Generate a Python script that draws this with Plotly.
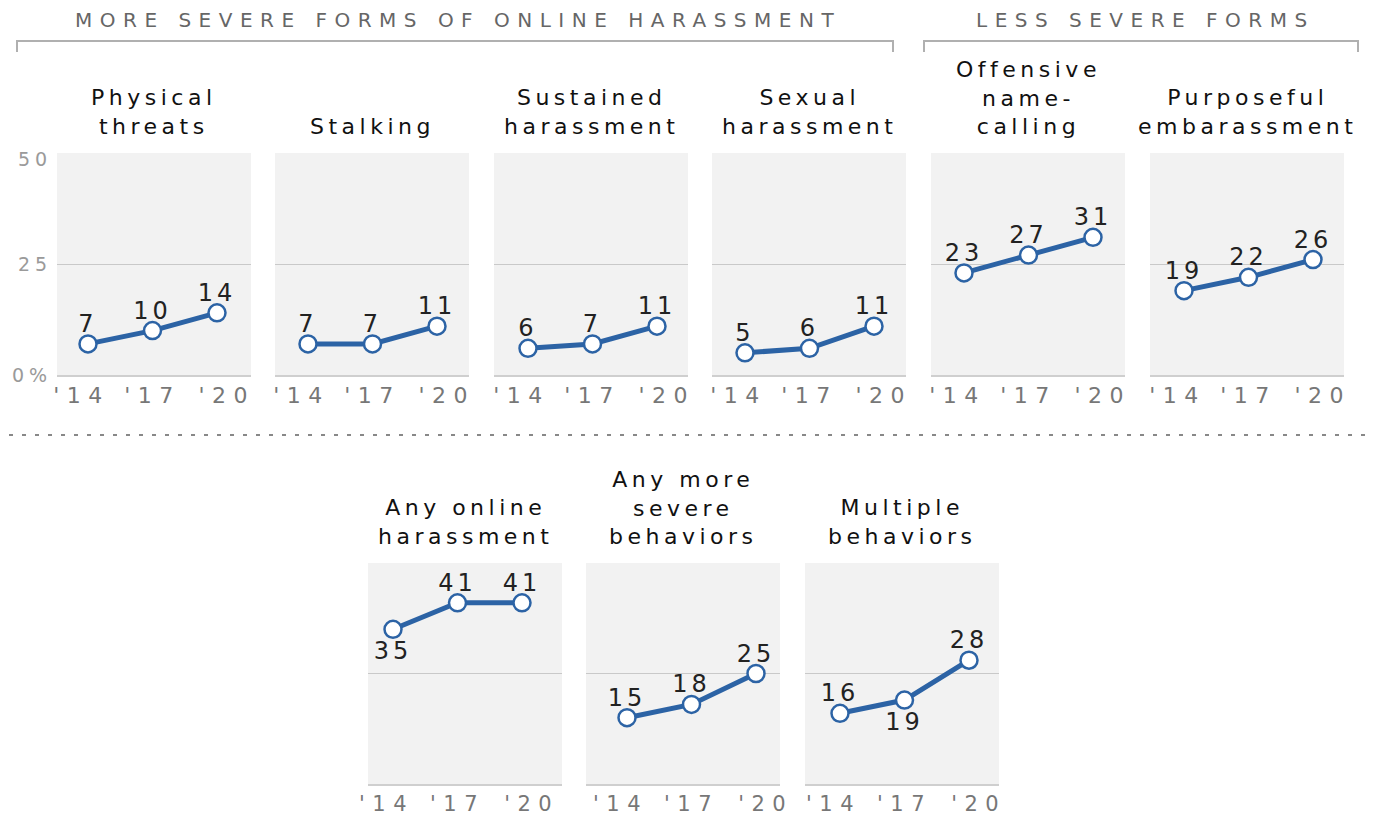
import plotly.graph_objects as go

# data
titles = [
    "Physical<br>threats", "Stalking", "Sustained<br>harassment", "Sexual<br>harassment",
    "Offensive<br>name-<br>calling", "Purposeful<br>embarassment",
    "Any online<br>harassment", "Any more<br>severe<br>behaviors", "Multiple<br>behaviors",
]
years = ["'14", "'17", "'20"]
y_ticks = [0, 25, 50]
y_ticktext = ["0%", "25", "50"]
physical_threats = [7, 10, 14]
stalking = [7, 7, 11]
sustained_harassment = [6, 7, 11]
sexual_harassment = [5, 6, 11]
name_calling = [23, 27, 31]
embarassment = [19, 22, 26]
any_online = [35, 41, 41]
any_severe = [15, 18, 25]
multiple = [16, 19, 28]
series = [physical_threats, stalking, sustained_harassment, sexual_harassment,
          name_calling, embarassment, any_online, any_severe, multiple]
groups = ["MORE SEVERE FORMS OF ONLINE HARASSMENT", "LESS SEVERE FORMS"]

# the page puts the figure 8px in from the top-left corner
OFF = 8
W, H = 1377 - OFF, 816 - OFF
BLUE = "#2c63a5"


def px(x):
    return (x - OFF) / W


def py(y):
    return 1 - (y - OFF) / H


def spaced(text, ls):
    return "<br>".join(f"<span style='letter-spacing:{ls}px'>{t}</span>"
                       for t in text.split("<br>"))


# panel boxes in page pixels: (left, top, bottom)
top_lefts = [57, 275, 494, 712, 931, 1150]
bot_lefts = [368, 586, 805]
boxes = [(l, 153, 375) for l in top_lefts] + [(l, 563, 784) for l in bot_lefts]
PW = 194
# offset of first point from the panel's left edge
first_pt = [31, 33, 34, 33, 33, 34, 25, 41, 35]
STEP = 64.5

fig = go.Figure()
annotations = []
for i, (vals, (left, top, bottom)) in enumerate(zip(series, boxes)):
    n = i + 1
    xa, ya = f"x{n}", f"y{n}"
    positions = ["top center"] * 3
    if i == 6:
        positions[0] = "bottom center"
    if i == 8:
        positions[1] = "bottom center"
    fig.add_trace(go.Scatter(
        x=[0, 1, 2], y=vals, xaxis=xa, yaxis=ya,
        mode="lines+markers",
        line=dict(color=BLUE, width=5),
        marker=dict(size=17, color="white", line=dict(color=BLUE, width=2.5)),
        cliponaxis=False, hoverinfo="skip",
    ))
    # labels: invisible markers just set how far the text sits from the point
    fig.add_trace(go.Scatter(
        x=[0, 1, 2], y=vals, xaxis=xa, yaxis=ya,
        mode="markers+text",
        marker=dict(size=[8 if p.startswith("top") else 17 for p in positions], opacity=0),
        text=[spaced(str(v), 4) for v in vals],
        textposition=positions,
        textfont=dict(size=24, color="#222"),
        cliponaxis=False, hoverinfo="skip",
    ))
    a = -first_pt[i] / STEP
    b = a + PW / STEP
    fig.layout[f"xaxis{n}"] = dict(
        domain=[px(left), px(left + PW)], anchor=ya, range=[a, b], automargin=False,
        showgrid=False, zeroline=False, showline=True, linecolor="#cfcfcf", linewidth=2,
        tickmode="array", tickvals=[-0.1, 1.0, 2.15],
        ticktext=[spaced(y, 7.5) for y in years], ticks="",
        tickfont=dict(size=22 if i < 6 else 21, color="#777"),
        ticklabelstandoff=0, fixedrange=True,
    )
    fig.layout[f"yaxis{n}"] = dict(
        domain=[py(bottom), py(top)], anchor=xa, range=[0, 50], automargin=False,
        showgrid=False, zeroline=False, showline=False, showticklabels=False,
        minor=dict(tickmode="array", tickvals=[25], showgrid=True,
                   gridcolor="#c9c9c9", gridwidth=1),
        fixedrange=True,
    )
    annotations.append(dict(
        text=spaced(titles[i], 4.5), xref="paper", yref="paper",
        x=px(left + PW / 2), y=py(top - 12), xanchor="center", yanchor="bottom",
        showarrow=False, font=dict(size=22, color="#111"),
    ))

# value axis labels on the first panel only
for v, t in zip(y_ticks, y_ticktext):
    annotations.append(dict(
        text=spaced(t, 5), xref="paper", yref="y", x=px(54), y=v,
        xanchor="right", yanchor="middle", yshift=-6 if v == 50 else 0,
        showarrow=False, font=dict(size=19, color="#9a9a9a"),
    ))

# group headers and brackets
for label, cx in zip(groups, [455, 1142]):
    annotations.append(dict(
        text=spaced(label, 7.5), xref="paper", yref="paper", x=px(cx + 3), y=py(20),
        xanchor="center", yanchor="middle", showarrow=False,
        font=dict(size=20, color="#666"),
    ))

shapes = []
for x0, x1 in [(17, 893), (924, 1358)]:
    shapes.append(dict(
        type="path", xref="paper", yref="paper",
        path=f"M{px(x0)},{py(52)} L{px(x0)},{py(41)} L{px(x1)},{py(41)} L{px(x1)},{py(52)}",
        line=dict(color="#b0b0b0", width=2),
    ))
shapes.append(dict(
    type="line", xref="paper", yref="paper", x0=px(9), x1=px(1365), y0=py(435), y1=py(435),
    line=dict(color="#888", width=2, dash="4px,9px"),
))

fig.update_layout(
    width=W, height=H, margin=dict(l=0, r=0, t=0, b=0, autoexpand=False),
    paper_bgcolor="white", plot_bgcolor="#f2f2f2",
    font=dict(family="DejaVu Sans"), showlegend=False,
    annotations=annotations, shapes=shapes,
)
fig.write_html("out.html")
